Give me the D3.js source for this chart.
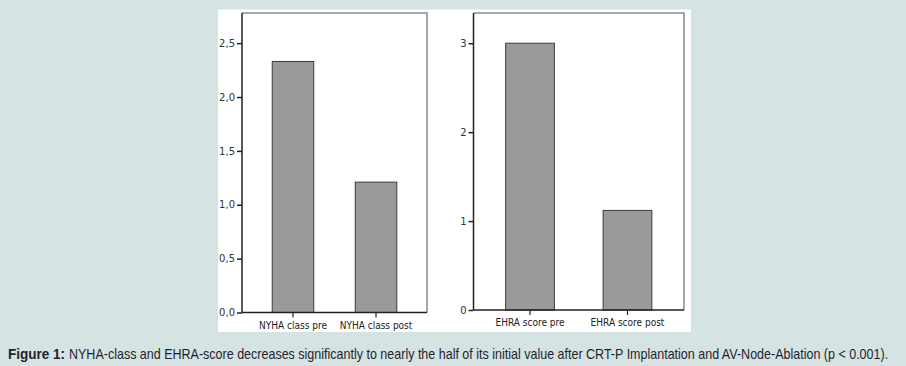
<!DOCTYPE html>
<html><head><meta charset="utf-8">
<script src="https://cdn.jsdelivr.net/npm/d3@7"></script>
<style>html,body{margin:0;padding:0;background:#d5e3e3;}svg{display:block;}</style>
</head><body>
<script>
const nyhaCategories = ["NYHA class pre", "NYHA class post"];
const nyhaValues = [2.33, 1.21];
const nyhaTicks = [0, 0.5, 1.0, 1.5, 2.0, 2.5];
const nyhaTickLabels = ["0,0", "0,5", "1,0", "1,5", "2,0", "2,5"];
const ehraCategories = ["EHRA score pre", "EHRA score post"];
const ehraValues = [3.0, 1.12];
const ehraTicks = [0, 1, 2, 3];
const ehraTickLabels = ["0", "1", "2", "3"];
const captionLabel = "Figure 1:";
const caption = "NYHA-class and EHRA-score decreases significantly to nearly the half of its initial value after CRT-P Implantation and AV-Node-Ablation (p < 0.001).";

const W = 906, H = 366;
const svg = d3.select("body").append("svg").attr("width", W).attr("height", H);
svg.append("rect").attr("width", W).attr("height", H).attr("fill", "#d5e3e3");
svg.append("rect").attr("x", 218).attr("y", 9.5).attr("width", 473).attr("height", 322.5).attr("fill", "#ffffff");

function panel(cfg) {
  const g = svg.append("g");
  const x = d3.scaleBand().domain(cfg.cats).range([cfg.x0, cfg.x1]).paddingInner(cfg.pi).paddingOuter(cfg.po);
  const y = d3.scaleLinear().domain([0, cfg.ymax]).range([cfg.yb, cfg.yt]);
  g.append("path")
    .attr("d", `M${cfg.x0},${cfg.yt}H${cfg.x1}V${cfg.yb}`)
    .attr("fill", "none").attr("stroke", "#8a8a8a").attr("stroke-width", 1.5);
  g.selectAll("rect.bar").data(cfg.vals).join("rect")
    .attr("x", (d, i) => x(cfg.cats[i]))
    .attr("y", d => y(d))
    .attr("width", x.bandwidth())
    .attr("height", d => y(0) - y(d))
    .attr("fill", "#9a9a9a").attr("stroke", "#3a3a3a").attr("stroke-width", 1);
  const ya = d3.axisLeft(y).tickValues(cfg.ticks).tickFormat((d, i) => cfg.tickLabels[i]).tickSize(5).tickPadding(2);
  const yg = g.append("g").attr("transform", `translate(${cfg.x0},0)`).call(ya);
  yg.select(".domain").attr("d", `M0,${cfg.yt}V${cfg.yb}`).attr("stroke", "#222").attr("stroke-width", 1.5);
  yg.selectAll(".tick line").attr("stroke", "#222").attr("stroke-width", 1.5);
  yg.selectAll(".tick text").attr("font-family", "DejaVu Sans").attr("font-size", 10).attr("fill", "#333");
  const xa = d3.axisBottom(x).tickSize(5).tickPadding(4);
  const xg = g.append("g").attr("transform", `translate(0,${cfg.yb})`).call(xa);
  xg.select(".domain").attr("d", `M${cfg.x0},0H${cfg.x1}`).attr("stroke", "#222").attr("stroke-width", 1.5);
  xg.selectAll(".tick line").attr("stroke", "#222").attr("stroke-width", 1.2);
  xg.selectAll(".tick text").attr("font-family", "DejaVu Sans Condensed, DejaVu Sans").attr("font-size", 10).attr("fill", "#222");
}

panel({cats: nyhaCategories, vals: nyhaValues, ticks: nyhaTicks, tickLabels: nyhaTickLabels,
  ymax: 2.78, x0: 242, x1: 427, yt: 13, yb: 312.5, pi: 0.5, po: 0.364});
panel({cats: ehraCategories, vals: ehraValues, ticks: ehraTicks, tickLabels: ehraTickLabels,
  ymax: 3.34, x0: 473.5, x1: 684, yt: 13, yb: 310, pi: 0.5, po: 0.33});

// caption: fit each part to its measured target width by a horizontal scale
function fitText(str, x, width, bold) {
  const g = svg.append("g");
  const t = g.append("text").attr("x", 0).attr("y", 0)
    .attr("font-family", "Liberation Sans, Arial").attr("font-size", 14)
    .attr("font-weight", bold ? "bold" : "normal").attr("fill", "#1f1f2e").text(str);
  const len = t.node().getComputedTextLength();
  g.attr("transform", `translate(${x},359) scale(${width / len},1)`);
}
fitText(captionLabel, 8, 57, true);
fitText(caption, 69, 820, false);
</script>
</body></html>
